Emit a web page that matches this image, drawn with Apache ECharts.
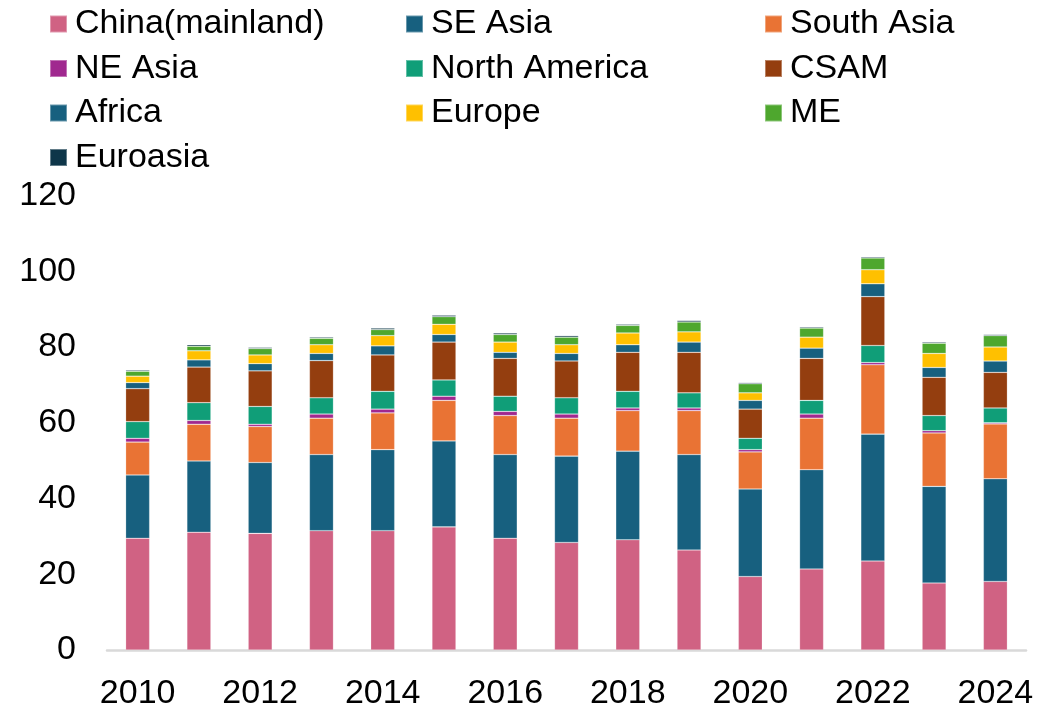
<!DOCTYPE html>
<html>
<head>
<meta charset="utf-8">
<title>Stacked bars by region</title>
<script src="https://cdn.jsdelivr.net/npm/echarts@6/dist/echarts.min.js"></script>
<style>
  html, body { margin: 0; padding: 0; width: 100%; height: 100%; background: #fff; }
  #main { width: 1055px; height: 711px; }
</style>
</head>
<body>
<div id="main"></div>
<script>
var years = ['2010','2011','2012','2013','2014','2015','2016','2017','2018','2019','2020','2021','2022','2023','2024'];

// values, bottom of the stack first
var china       = [29.5, 31.1, 30.8, 31.5, 31.5, 32.5, 29.5, 28.4, 29.1, 26.4, 19.4, 21.4, 23.5, 17.7, 18.1];
var seAsia      = [16.7, 18.8, 18.7, 20.1, 21.4, 22.7, 22.1, 22.8, 23.4, 25.2, 23.1, 26.2, 33.5, 25.5, 27.1];
var southAsia   = [8.7, 9.7, 9.5, 9.6, 9.7, 10.7, 10.3, 10.0, 10.7, 11.6, 9.8, 13.6, 18.3, 14.1, 14.5];
var neAsia      = [1.0, 1.0, 0.6, 1.1, 1.0, 1.1, 1.1, 1.1, 0.7, 0.7, 0.6, 1.1, 0.6, 0.6, 0.3];
var northAm     = [4.4, 4.7, 4.7, 4.3, 4.7, 4.3, 4.0, 4.3, 4.4, 4.0, 3.0, 3.6, 4.5, 4.0, 3.9];
var csam        = [8.7, 9.4, 9.4, 9.8, 9.6, 10.0, 10.0, 9.7, 10.3, 10.7, 7.7, 11.1, 12.9, 10.1, 9.4];
var africa      = [1.6, 1.9, 1.9, 1.9, 2.4, 2.0, 1.6, 2.0, 2.0, 2.7, 2.3, 2.7, 3.4, 2.6, 3.0];
var europe      = [1.7, 2.4, 2.3, 2.3, 2.7, 2.7, 2.7, 2.3, 3.1, 2.7, 2.0, 2.9, 3.7, 3.7, 3.7];
var me          = [1.3, 1.2, 1.7, 1.7, 1.6, 2.0, 2.0, 2.0, 2.0, 2.6, 2.4, 2.4, 3.1, 2.7, 3.0];
var euroasia    = [0.3, 0.4, 0.3, 0.3, 0.4, 0.4, 0.4, 0.4, 0.3, 0.4, 0.3, 0.3, 0.3, 0.3, 0.3];

var names  = ['China(mainland)', 'SE Asia', 'South Asia', 'NE Asia', 'North America', 'CSAM', 'Africa', 'Europe', 'ME', 'Euroasia'];
var values = [china, seAsia, southAsia, neAsia, northAm, csam, africa, europe, me, euroasia];
var colors = ['#D06283', '#17607F', '#E97334', '#A0288F', '#109E78', '#943E0F', '#17607F', '#FFC000', '#4EA72E', '#0E3649'];

var yTicks = [0, 20, 40, 60, 80, 100, 120];

var myChart = echarts.init(document.getElementById('main'));

var legendText = {
    fontFamily: 'Liberation Sans, Arial, sans-serif',
    fontSize: 34,
    color: '#000',
    lineHeight: 34,
    padding: [0, 0, 0, 3]
};
function legendCol(left, list) {
    return {
        orient: 'vertical',
        left: left,
        top: 2,
        icon: 'rect',
        itemWidth: 17,
        itemHeight: 17,
        itemGap: 10.5,
        selectedMode: false,
        textStyle: legendText,
        data: list
    };
}

myChart.setOption({
    animation: false,
    color: colors,
    legend: [
        legendCol(44, [names[0], names[3], names[6], names[9]]),
        legendCol(400, [names[1], names[4], names[7]]),
        legendCol(759, [names[2], names[5], names[8]])
    ],
    grid: {
        left: 107,
        right: 29,
        top: 195.5,
        bottom: 56.7,
        containLabel: false
    },
    xAxis: {
        type: 'category',
        data: years,
        boundaryGap: true,
        axisLine: { lineStyle: { color: '#d9d9d9', width: 2.5 } },
        axisTick: { inside: true, length: 10, interval: 1, lineStyle: { color: '#d9d9d9', width: 2 } },
        axisLabel: {
            interval: 1,
            margin: 27,
            fontFamily: 'Liberation Sans, Arial, sans-serif',
            fontSize: 34,
            color: '#000'
        }
    },
    yAxis: {
        type: 'value',
        min: yTicks[0],
        max: yTicks[yTicks.length - 1],
        interval: 20,
        axisLine: { show: false },
        axisTick: { show: false },
        splitLine: { show: false },
        axisLabel: {
            margin: 31,
            fontFamily: 'Liberation Sans, Arial, sans-serif',
            fontSize: 34,
            color: '#000'
        }
    },
    series: names.map(function (n, i) {
        return {
            name: n,
            type: 'bar',
            stack: 'total',
            barWidth: 24,
            data: values[i],
            itemStyle: { color: colors[i], borderColor: 'rgba(255,255,255,0.35)', borderWidth: 0.6 }
        };
    })
});

window.addEventListener('resize', function () {
    myChart.resize();
});
</script>
</body>
</html>
